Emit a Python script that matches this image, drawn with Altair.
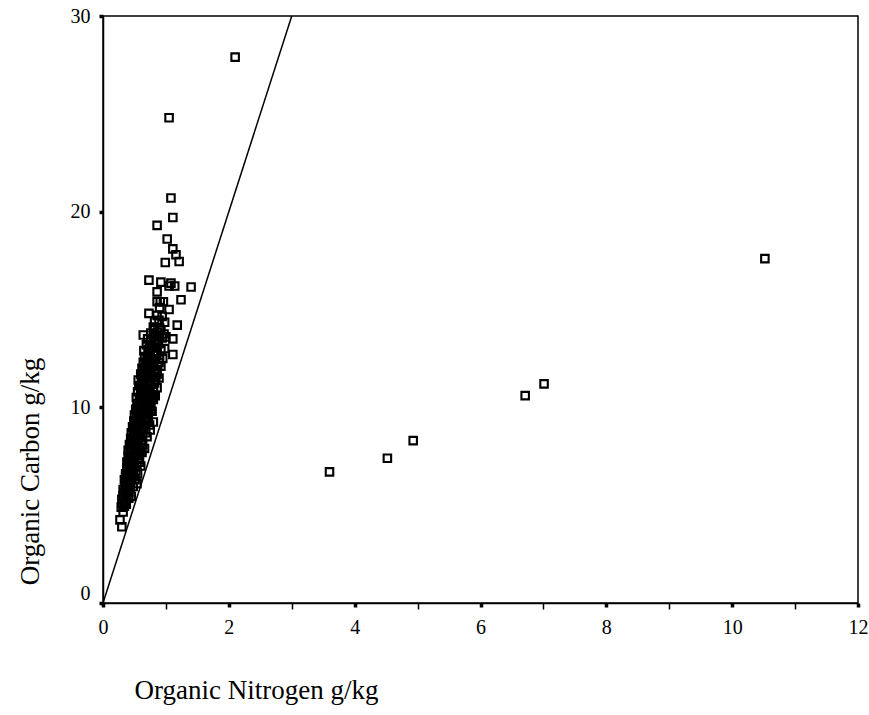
import altair as alt
import pandas as pd

# Organic nitrogen (g/kg) and organic carbon (g/kg) of the samples
nitrogen = [
    0.30,
    0.27,
    0.32,
    0.29, 0.34,
    0.31, 0.37,
    0.30, 0.35, 0.41,
    0.32, 0.38, 0.45,
    0.32, 0.37, 0.43,
    0.35, 0.41, 0.48,
    0.54,
    0.34, 0.39, 0.45, 0.51,
    0.36, 0.42, 0.48, 0.55,
    0.38, 0.44, 0.50,
    0.38, 0.43, 0.49, 0.58,
    0.40, 0.46, 0.53,
    0.62,
    0.40, 0.45, 0.51, 0.59,
    0.42, 0.48, 0.56, 0.63,
    0.44, 0.51, 0.58,
    0.45, 0.52, 0.60, 0.68,
    0.75,
    0.47, 0.55, 0.64,
    0.80,
    0.49, 0.57, 0.66, 0.72,
    0.50, 0.59, 0.68,
    0.52, 0.61, 0.70, 0.76,
    0.54, 0.63, 0.72,
    0.80,
    0.53, 0.60, 0.68, 0.77,
    0.55, 0.64, 0.73, 0.80,
    0.57, 0.66, 0.75,
    0.56, 0.62, 0.71, 0.82,
    0.60, 0.68, 0.77, 0.86,
    0.62, 0.72, 0.82,
    0.64, 0.70, 0.79, 0.89,
    0.66, 0.75, 0.85,
    1.11,
    0.65, 0.72, 0.82, 0.92,
    0.69, 0.78, 0.88,
    0.71, 0.82, 0.94, 1.11,
    0.64,
    0.76, 0.87, 0.97,
    0.80, 0.90,
    1.18,
    0.82, 0.89, 0.98,
    0.86, 0.94,
    0.73,
    1.05, 0.90,
    0.86, 0.91, 0.96,
    1.24,
    0.86,
    1.05, 1.14, 1.40,
    0.92, 1.08,
    0.73,
    0.99, 1.21,
    1.16, 1.11, 1.02, 0.86, 1.11, 1.08, 1.05, 2.10,
    0.60, 0.66, 0.70, 0.74, 0.78, 0.83, 0.86, 0.89, 0.92, 0.95, 0.98, 1.00,
    # densely packed core of the main cluster
    0.34,
    0.35, 0.41,
    0.38, 0.44,
    0.36, 0.42, 0.48,
    0.39, 0.45, 0.52,
    0.41, 0.47, 0.54,
    0.42, 0.49, 0.56,
    0.43, 0.50, 0.57,
    0.44, 0.52, 0.60,
    0.46, 0.53, 0.61,
    0.48, 0.55, 0.63,
    0.49, 0.57, 0.65,
    0.51, 0.59, 0.68,
    0.53, 0.61, 0.70,
    0.55, 0.63, 0.72,
    0.56, 0.65, 0.74,
    0.58, 0.67, 0.76,
    0.60, 0.69, 0.78,
    0.60, 0.70, 0.80,
    0.61, 0.72, 0.82,
    0.63, 0.73, 0.84,
    0.65, 0.75, 0.85,
    0.67, 0.77, 0.87,
    0.70, 0.80, 0.90,
    0.72, 0.82,
    0.74, 0.84,
    0.76, 0.86,
    0.80, 0.90,
    0.82, 0.92,
    # samples far from the main cluster
    3.60, 4.52, 4.93, 6.71, 7.01, 10.52,
]
carbon = [
    3.90,
    4.25,
    4.65,
    4.90, 4.95,
    5.10, 5.05,
    5.30, 5.25, 5.35,
    5.50, 5.55, 5.45,
    5.80, 5.75, 5.85,
    6.00, 6.05, 5.95,
    6.10,
    6.30, 6.25, 6.35, 6.30,
    6.60, 6.55, 6.65, 6.60,
    6.90, 6.85, 6.95,
    7.20, 7.15, 7.25, 7.20,
    7.50, 7.45, 7.55,
    7.70,
    7.80, 7.85, 7.75, 7.80,
    8.10, 8.05, 8.15, 8.10,
    8.40, 8.35, 8.45,
    8.70, 8.65, 8.75, 8.70,
    8.84,
    9.00, 9.05, 8.95,
    9.25,
    9.30, 9.35, 9.25, 9.30,
    9.60, 9.55, 9.65,
    9.90, 9.85, 9.95, 9.90,
    10.20, 10.15, 10.25,
    10.40,
    10.50, 10.55, 10.45, 10.50,
    10.80, 10.85, 10.75, 10.80,
    11.10, 11.05, 11.15,
    11.40, 11.35, 11.45, 11.40,
    11.70, 11.75, 11.65, 11.70,
    12.00, 12.05, 11.95,
    12.30, 12.25, 12.35, 12.30,
    12.60, 12.55, 12.65,
    12.70,
    12.90, 12.95, 12.85, 12.90,
    13.20, 13.15, 13.25,
    13.50, 13.45, 13.55, 13.50,
    13.70,
    13.80, 13.85, 13.75,
    14.10, 14.05,
    14.20,
    14.40, 14.45, 14.35,
    14.70, 14.65,
    14.80,
    15.00, 15.10,
    15.40, 15.40, 15.40,
    15.50,
    15.90,
    16.20, 16.20, 16.15,
    16.40, 16.35,
    16.50,
    17.40, 17.45,
    17.80, 18.10, 18.60, 19.30, 19.70, 20.70, 24.80, 27.90,
    7.00, 7.90, 8.50, 9.10, 9.80, 10.60, 11.00, 11.50, 12.10, 12.50, 13.00, 13.60,
    # densely packed core of the main cluster
    5.15,
    5.65, 5.65,
    6.15, 6.15,
    6.45, 6.45, 6.45,
    6.75, 6.75, 6.75,
    7.05, 7.05, 7.05,
    7.35, 7.35, 7.35,
    7.65, 7.65, 7.65,
    7.95, 7.95, 7.95,
    8.25, 8.25, 8.25,
    8.55, 8.55, 8.55,
    8.85, 8.85, 8.85,
    9.15, 9.15, 9.15,
    9.45, 9.45, 9.45,
    9.75, 9.75, 9.75,
    10.05, 10.05, 10.05,
    10.35, 10.35, 10.35,
    10.65, 10.65, 10.65,
    10.95, 10.95, 10.95,
    11.25, 11.25, 11.25,
    11.55, 11.55, 11.55,
    11.85, 11.85, 11.85,
    12.15, 12.15, 12.15,
    12.45, 12.45, 12.45,
    12.75, 12.75,
    13.05, 13.05,
    13.35, 13.35,
    13.65, 13.65,
    13.95, 13.95,
    # samples far from the main cluster
    6.70, 7.40, 8.30, 10.60, 11.20, 17.60,
]

# Reference line C = 10 N
line_n = [0, 3]
line_c = [0, 30]

x_ticks = list(range(0, 13))
y_ticks = [0, 10, 20, 30]

points = pd.DataFrame({"N": nitrogen, "C": carbon})
ref = pd.DataFrame({"N": line_n, "C": line_c})

font = "Liberation Serif"

x_enc = alt.X(
    "N:Q",
    scale=alt.Scale(domain=[0, 12], nice=False, zero=False),
    axis=alt.Axis(
        title="Organic Nitrogen g/kg",
        values=x_ticks,
        format="d",
        labelExpr="datum.value % 2 === 0 ? datum.label : ''",
        labelFlush=False,
        grid=False,
        tickColor="black",
        tickSize={"condition": {"test": "datum.value % 2 === 0", "value": 4}, "value": 6},
        tickWidth={"condition": {"test": "datum.value % 2 === 0", "value": 3.5}, "value": 1.5},
        labelPadding=10,
        titleX=153,
        titleY=87,
        titleAnchor="middle",
        titleAlign="center",
        titleBaseline="middle",
    ),
)
y_enc = alt.Y(
    "C:Q",
    scale=alt.Scale(domain=[0, 30], nice=False, zero=False),
    axis=alt.Axis(
        title="Organic Carbon g/kg",
        values=y_ticks,
        format="d",
        labelFlush=False,
        grid=False,
        tickColor="black",
        tickSize=4,
        tickWidth=3.5,
        labelPadding=9,
        labelOffset={"condition": {"test": "datum.value === 0", "value": -10}, "value": 0},
        titleX=-73,
        titleY=455,
        titleAngle=-90,
        titleAlign="center",
        titleBaseline="middle",
    ),
)

scatter = alt.Chart(points).mark_point(
    shape="square", filled=False, color="black", size=56, strokeWidth=2.1, opacity=1
).encode(x=x_enc, y=y_enc)

line = alt.Chart(ref).mark_line(color="black", strokeWidth=1.5, clip=True).encode(
    x="N:Q", y="C:Q"
)

chart = (
    alt.layer(line, scatter)
    .properties(
        width=755,
        height=587,
        autosize=alt.AutoSizeParams(type="none"),
        padding={"left": 103, "top": 16, "right": 11, "bottom": 112},
        background="white",
    )
    .configure_view(stroke="black", strokeWidth=1.5)
    .configure_axis(
        domainColor="black",
        domainWidth=1.5,
        labelFont=font,
        labelFontSize=20,
        labelColor="black",
        titleFont=font,
        titleFontSize=27,
        titleFontWeight="normal",
        titleColor="black",
    )
)

chart.save("out.html", embed_options={"renderer": "svg", "actions": False})
